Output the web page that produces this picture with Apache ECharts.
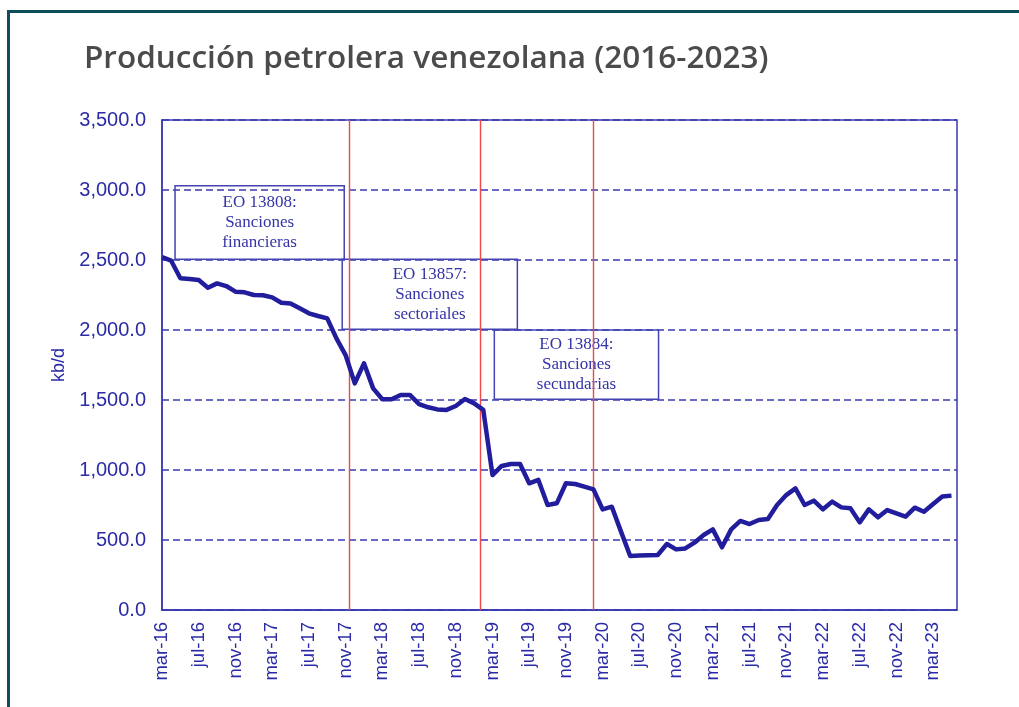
<!DOCTYPE html>
<html><head><meta charset="utf-8">
<script src="https://cdn.jsdelivr.net/npm/echarts@6/dist/echarts.min.js"></script>
<style>html,body{margin:0;padding:0;background:#fff}#c{width:1019px;height:707px}</style>
</head><body><div id="c"></div>
<script>
const categories = [
  'mar-16','abr-16','may-16','jun-16','jul-16','ago-16','sep-16','oct-16','nov-16','dic-16',
  'ene-17','feb-17','mar-17','abr-17','may-17','jun-17','jul-17','ago-17','sep-17','oct-17','nov-17','dic-17',
  'ene-18','feb-18','mar-18','abr-18','may-18','jun-18','jul-18','ago-18','sep-18','oct-18','nov-18','dic-18',
  'ene-19','feb-19','mar-19','abr-19','may-19','jun-19','jul-19','ago-19','sep-19','oct-19','nov-19','dic-19',
  'ene-20','feb-20','mar-20','abr-20','may-20','jun-20','jul-20','ago-20','sep-20','oct-20','nov-20','dic-20',
  'ene-21','feb-21','mar-21','abr-21','may-21','jun-21','jul-21','ago-21','sep-21','oct-21','nov-21','dic-21',
  'ene-22','feb-22','mar-22','abr-22','may-22','jun-22','jul-22','ago-22','sep-22','oct-22','nov-22','dic-22',
  'ene-23','feb-23','mar-23','abr-23','may-23'
];
const production = [
  2520,2495,2370,2365,2357,2302,2333,2314,2274,2269,
  2250,2248,2233,2195,2190,2155,2119,2100,2083,1940,1821,1619,
  1762,1583,1505,1505,1536,1536,1471,1448,1433,1429,1457,1507,
  1476,1429,964,1029,1043,1043,905,929,750,762,905,900,
  881,862,719,738,560,386,389,391,393,471,433,440,
  481,536,576,448,576,636,614,643,650,750,821,869,
  750,781,719,774,733,726,626,719,662,714,690,667,
  731,702,757,810,817
];
// sanction dates (fractional month index from mar-16)
const sanctionLines = [20.39, 34.68, 47.0];
const annotations = [
  {text: 'EO 13808:\nSanciones\nfinancieras', x0: 1.42, x1: 19.85, y0: 3030, y1: 2505},
  {text: 'EO 13857:\nSanciones\nsectoriales', x0: 19.63, x1: 38.71, y0: 2505, y1: 2005},
  {text: 'EO 13884:\nSanciones\nsecundarias', x0: 36.2, x1: 54.09, y0: 2000, y1: 1505}
];

const blue = '#2b2ba8';
const gridBlue = '#3a3ab4';
const chart = echarts.init(document.getElementById('c'));
chart.setOption({
  animation: false,
  title: {
    text: 'Producción petrolera venezolana (2016-2023)',
    left: 79, top: 38,
    textStyle: {fontFamily: 'Open Sans', fontWeight: 600, fontSize: 31.5, color: '#4b4b4b'}
  },
  graphic: [{
    type: 'rect', silent: true,
    shape: {x: 8.5, y: 11.5, width: 1200, height: 1000},
    style: {fill: 'none', stroke: '#0f4d5c', lineWidth: 3}
  }],
  grid: {left: 162, right: 62, top: 120, bottom: 97, show: true, borderColor: gridBlue, borderWidth: 1.5, backgroundColor: 'transparent'},
  xAxis: {
    type: 'value', min: 0, max: 86.6, interval: 4,
    axisLine: {show: true, lineStyle: {color: gridBlue, width: 1.5}},
    axisTick: {show: false},
    splitLine: {show: false},
    axisLabel: {
      rotate: 90, margin: 12, fontFamily: 'Liberation Sans', fontSize: 18.5, color: blue,
      formatter: v => (v % 4 === 0 && categories[v]) ? categories[v] : ''
    }
  },
  yAxis: {
    type: 'value', min: 0, max: 3500, interval: 500,
    name: 'kb/d', nameLocation: 'middle', nameGap: 92,
    nameTextStyle: {fontFamily: 'Liberation Sans', fontSize: 18, color: blue},
    axisLine: {show: true, lineStyle: {color: gridBlue, width: 1.5}},
    axisTick: {show: false},
    splitLine: {show: true, lineStyle: {color: gridBlue, width: 1.5, type: [7, 4]}},
    axisLabel: {
      margin: 16, fontFamily: 'Liberation Sans', fontSize: 20, color: blue,
      formatter: v => v.toLocaleString('en-US', {minimumFractionDigits: 1, maximumFractionDigits: 1})
    }
  },
  series: [{
    type: 'line',
    data: production.map((v, i) => [i, v]),
    showSymbol: false, symbol: 'none',
    lineStyle: {color: '#211d9c', width: 4.5, join: 'round'},
    z: 5,
    markLine: {
      silent: true, symbol: 'none', label: {show: false},
      lineStyle: {color: '#f04848', width: 1.4, type: 'solid'},
      data: sanctionLines.map(x => ({xAxis: x}))
    },
    markArea: {
      silent: true,
      itemStyle: {color: 'rgba(0,0,0,0)', borderColor: '#4343b4', borderWidth: 1.5},
      label: {show: true, position: 'inside', fontFamily: 'Liberation Serif', fontSize: 17, lineHeight: 20, color: '#3434a8'},
      data: annotations.map(a => [{name: a.text, coord: [a.x0, a.y0]}, {coord: [a.x1, a.y1]}])
    }
  }]
});
</script>
</body></html>
